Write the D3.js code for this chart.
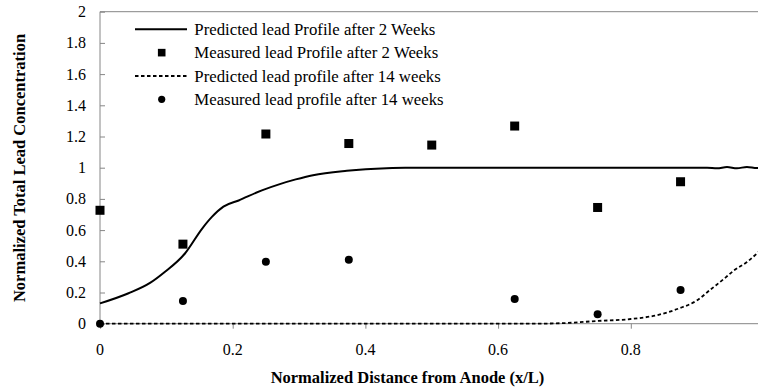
<!DOCTYPE html>
<html>
<head>
<meta charset="utf-8">
<script src="https://cdn.jsdelivr.net/npm/d3@7"></script>
<style>
  body { margin: 0; background: #fff; }
</style>
</head>
<body>
<div id="chart"></div>
<script>
// Measured points (x/L) and values
const xMeasured2 = [0, 0.125, 0.25, 0.375, 0.5, 0.625, 0.75, 0.875];
const measured2 = [0.727, 0.51, 1.216, 1.155, 1.145, 1.267, 0.745, 0.91];
const xMeasured14 = [0, 0.125, 0.25, 0.375, 0.625, 0.75, 0.875];
const measured14 = [0, 0.145, 0.397, 0.41, 0.158, 0.06, 0.216];

// Predicted profiles
const xPred2 = [0, 0.043, 0.076, 0.098, 0.128, 0.154, 0.169, 0.186, 0.209, 0.244, 0.271, 0.295, 0.321, 0.372, 0.432, 0.46, 0.6, 0.75, 0.9, 0.915, 0.93, 0.945, 0.96, 0.975, 0.99, 1.0];
const pred2 = [0.13, 0.195, 0.263, 0.333, 0.45, 0.61, 0.686, 0.75, 0.79, 0.855, 0.895, 0.925, 0.952, 0.98, 0.997, 1.0, 1.0, 1.0, 1.0, 1.0, 0.996, 1.004, 0.996, 1.005, 0.998, 1.0];
const xPred14 = [0, 0.5, 0.65, 0.7, 0.748, 0.8, 0.84, 0.872, 0.9, 0.919, 0.944, 0.955, 0.975, 0.99, 1.0];
const pred14 = [0, 0, 0, 0.004, 0.017, 0.03, 0.055, 0.097, 0.15, 0.215, 0.3, 0.34, 0.395, 0.45, 0.49];

const xTicks = [0, 0.2, 0.4, 0.6, 0.8];
const yTicks = [0, 0.2, 0.4, 0.6, 0.8, 1, 1.2, 1.4, 1.6, 1.8, 2];

const legendLabels = [
    "Predicted lead Profile after 2 Weeks",
    "Measured lead Profile after 2 Weeks",
    "Predicted lead profile after 14 weeks",
    "Measured lead profile after 14 weeks"
];

const width = 758, height = 392;
const axisColor = "#868686";
const font = "'Liberation Serif', 'DejaVu Serif', serif";

const svg = d3.select("#chart").append("svg")
    .attr("width", width)
    .attr("height", height)
    .style("display", "block");

const x = d3.scaleLinear().domain([0, 1]).range([100, 763.5]);
const y = d3.scaleLinear().domain([0, 2]).range([323.7, 11.7]);

// Plot area top border
svg.append("line")
    .attr("x1", x(0)).attr("x2", width)
    .attr("y1", y(2)).attr("y2", y(2))
    .attr("stroke", axisColor).attr("stroke-width", 1);

// Y axis (ticks inside)
const yAxis = svg.append("g")
    .attr("transform", `translate(${x(0)},0)`)
    .call(d3.axisRight(y).tickValues(yTicks).tickSize(5).tickFormat(""));
yAxis.select(".domain").attr("stroke", axisColor).attr("d", `M0,${y(0)}V${y(2)}`);
yAxis.selectAll(".tick line").attr("stroke", axisColor);

svg.append("g").selectAll("text")
    .data(yTicks)
    .enter().append("text")
    .attr("x", 86)
    .attr("y", d => y(d) + 5.5)
    .attr("text-anchor", "end")
    .style("font-family", font)
    .style("font-size", "16px")
    .text(d => d3.format("")(d));

// X axis (ticks outside)
const xAxis = svg.append("g")
    .attr("transform", `translate(0,${y(0)})`)
    .call(d3.axisBottom(x).tickValues(xTicks).tickSize(5).tickFormat(""));
xAxis.select(".domain").attr("stroke", axisColor).attr("d", `M${x(0)},0H${width}`);
xAxis.selectAll(".tick line").attr("stroke", axisColor);

svg.append("g").selectAll("text")
    .data(xTicks)
    .enter().append("text")
    .attr("x", d => x(d))
    .attr("y", 355)
    .attr("text-anchor", "middle")
    .style("font-family", font)
    .style("font-size", "16px")
    .text(d => d3.format("")(d));

// Axis titles
svg.append("text")
    .attr("x", 407.5)
    .attr("y", 383)
    .attr("text-anchor", "middle")
    .style("font-family", font)
    .style("font-size", "16.5px")
    .style("font-weight", "bold")
    .text("Normalized Distance from Anode (x/L)");

svg.append("text")
    .attr("transform", "translate(25,168) rotate(-90)")
    .attr("text-anchor", "middle")
    .style("font-family", font)
    .style("font-size", "16.5px")
    .style("font-weight", "bold")
    .text("Normalized Total Lead Concentration");

// Curves
const line = d3.line()
    .x(d => x(d[0]))
    .y(d => y(d[1]))
    .curve(d3.curveMonotoneX);

svg.append("path")
    .datum(d3.zip(xPred14, pred14))
    .attr("d", line)
    .attr("fill", "none")
    .attr("stroke", "#000")
    .attr("stroke-width", 1.8)
    .attr("stroke-dasharray", "3.5,2.5");

svg.append("path")
    .datum(d3.zip(xPred2, pred2))
    .attr("d", line)
    .attr("fill", "none")
    .attr("stroke", "#000")
    .attr("stroke-width", 2);

// Measured markers
svg.append("g").selectAll("rect")
    .data(d3.zip(xMeasured2, measured2))
    .enter().append("rect")
    .attr("x", d => x(d[0]) - 4.5)
    .attr("y", d => y(d[1]) - 4.5)
    .attr("width", 9)
    .attr("height", 9)
    .attr("fill", "#000");

svg.append("g").selectAll("circle")
    .data(d3.zip(xMeasured14, measured14))
    .enter().append("circle")
    .attr("cx", d => x(d[0]))
    .attr("cy", d => y(d[1]))
    .attr("r", 4)
    .attr("fill", "#000");

// Legend
const legend = svg.append("g");
const rowY = i => 29.3 + i * 23.35;

legendLabels.forEach((label, i) => {
    const g = legend.append("g").attr("transform", `translate(0,${rowY(i)})`);
    if (i === 0 || i === 2) {
        g.append("line")
            .attr("x1", 135).attr("x2", 187)
            .attr("y1", 0).attr("y2", 0)
            .attr("stroke", "#000")
            .attr("stroke-width", i === 0 ? 2 : 1.8)
            .attr("stroke-dasharray", i === 2 ? "3.5,2.5" : null);
    } else if (i === 1) {
        g.append("rect")
            .attr("x", 161.7 - 3.8).attr("y", -3.8)
            .attr("width", 7.6).attr("height", 7.6)
            .attr("fill", "#000");
    } else {
        g.append("circle")
            .attr("cx", 161.7).attr("cy", 0)
            .attr("r", 3.6)
            .attr("fill", "#000");
    }
    g.append("text")
        .attr("x", 194.3)
        .attr("y", 5.7)
        .style("font-family", font)
        .style("font-size", "16.8px")
        .text(label);
});
</script>
</body>
</html>
